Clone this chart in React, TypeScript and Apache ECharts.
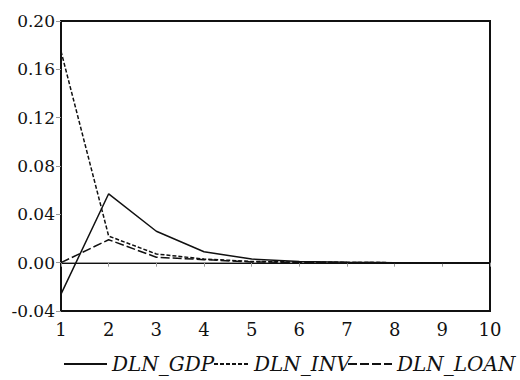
import React, { useEffect, useRef } from "react";
import * as echarts from "echarts";

const periods = [1, 2, 3, 4, 5, 6, 7, 8, 9, 10];
const gdp = [-0.026, 0.057, 0.026, 0.009, 0.003, 0.001, 0.0003, 0, 0, 0];
const inv = [0.175, 0.022, 0.0072, 0.003, 0.001, 0.0005, 0.0002, 0, 0, 0];
const loan = [0.0, 0.019, 0.0045, 0.0025, 0.0006, 0.0002, 0.0001, 0, 0, 0];
const seriesNames = ["DLN_GDP", "DLN_INV", "DLN_LOAN"];

const FONT = "DejaVu Serif";

export default function App() {
  const ref = useRef<HTMLDivElement>(null);
  useEffect(() => {
    document.body.style.margin = "0";
    const chart = echarts.init(ref.current!, null, { renderer: "svg" });
    const pts = (arr: number[]) => periods.map((p, i) => [p, arr[i]]);
    const styles = [
      { type: "solid" as any },
      { type: [4, 2] as any },
      { type: [9, 3] as any },
    ];
    const datas = [gdp, inv, loan];
    const legendPos = [
      { left: 63, itemWidth: 43 },
      { left: 213, itemWidth: 35 },
      { left: 347, itemWidth: 44 },
    ];
    chart.setOption({
      animation: false,
      backgroundColor: "#fff",
      grid: {
        left: 61,
        right: 30,
        top: 21,
        bottom: 69,
        show: true,
        borderColor: "#111",
        borderWidth: 2,
      },
      legend: seriesNames.map((name, k) => ({
        data: [name],
        left: legendPos[k].left,
        top: 354,
        itemWidth: legendPos[k].itemWidth,
        itemHeight: 14,
        itemGap: 0,
        padding: 0,
        itemStyle: { color: "transparent", borderColor: "transparent", borderWidth: 0, opacity: 0 },
        textStyle: {
          fontFamily: FONT,
          fontStyle: "italic",
          fontSize: 20,
          color: "#111",
        },
      })),
      xAxis: {
        type: "value",
        min: 1,
        max: 10,
        interval: 1,
        axisLine: { show: true, lineStyle: { color: "#111", width: 2 } },
        axisTick: { show: true, length: 4, lineStyle: { color: "#999", width: 1 } },
        splitLine: { show: false },
        axisLabel: {
          margin: 9,
          fontFamily: FONT,
          fontSize: 18,
          color: "#111",
        },
      },
      yAxis: {
        type: "value",
        min: -0.04,
        max: 0.2,
        interval: 0.04,
        axisLine: { show: true, lineStyle: { color: "#111", width: 2 } },
        axisTick: { show: true, length: 5, lineStyle: { color: "#999", width: 1 } },
        splitLine: { show: false },
        axisLabel: {
          margin: 6,
          fontFamily: FONT,
          fontSize: 17,
          color: "#111",
          formatter: (v: number) => (Math.abs(v) < 1e-9 ? 0 : v).toFixed(2),
        },
      },
      series: seriesNames.map((name, k) => ({
        name,
        type: "line",
        data: pts(datas[k]),
        symbol: "none",
        color: "#111",
        lineStyle: { color: "#111", width: 1.5, ...styles[k] },
        z: 3,
        ...(k === 0
          ? {
              markLine: {
                silent: true,
                symbol: "none",
                label: { show: false },
                lineStyle: { color: "#999", width: 1, type: "solid" },
                data: [{ yAxis: 0 }],
                z: 1,
              },
            }
          : {}),
      })),
    });
    return () => chart.dispose();
  }, []);
  return <div ref={ref} style={{ width: 520, height: 380 }} />;
}
